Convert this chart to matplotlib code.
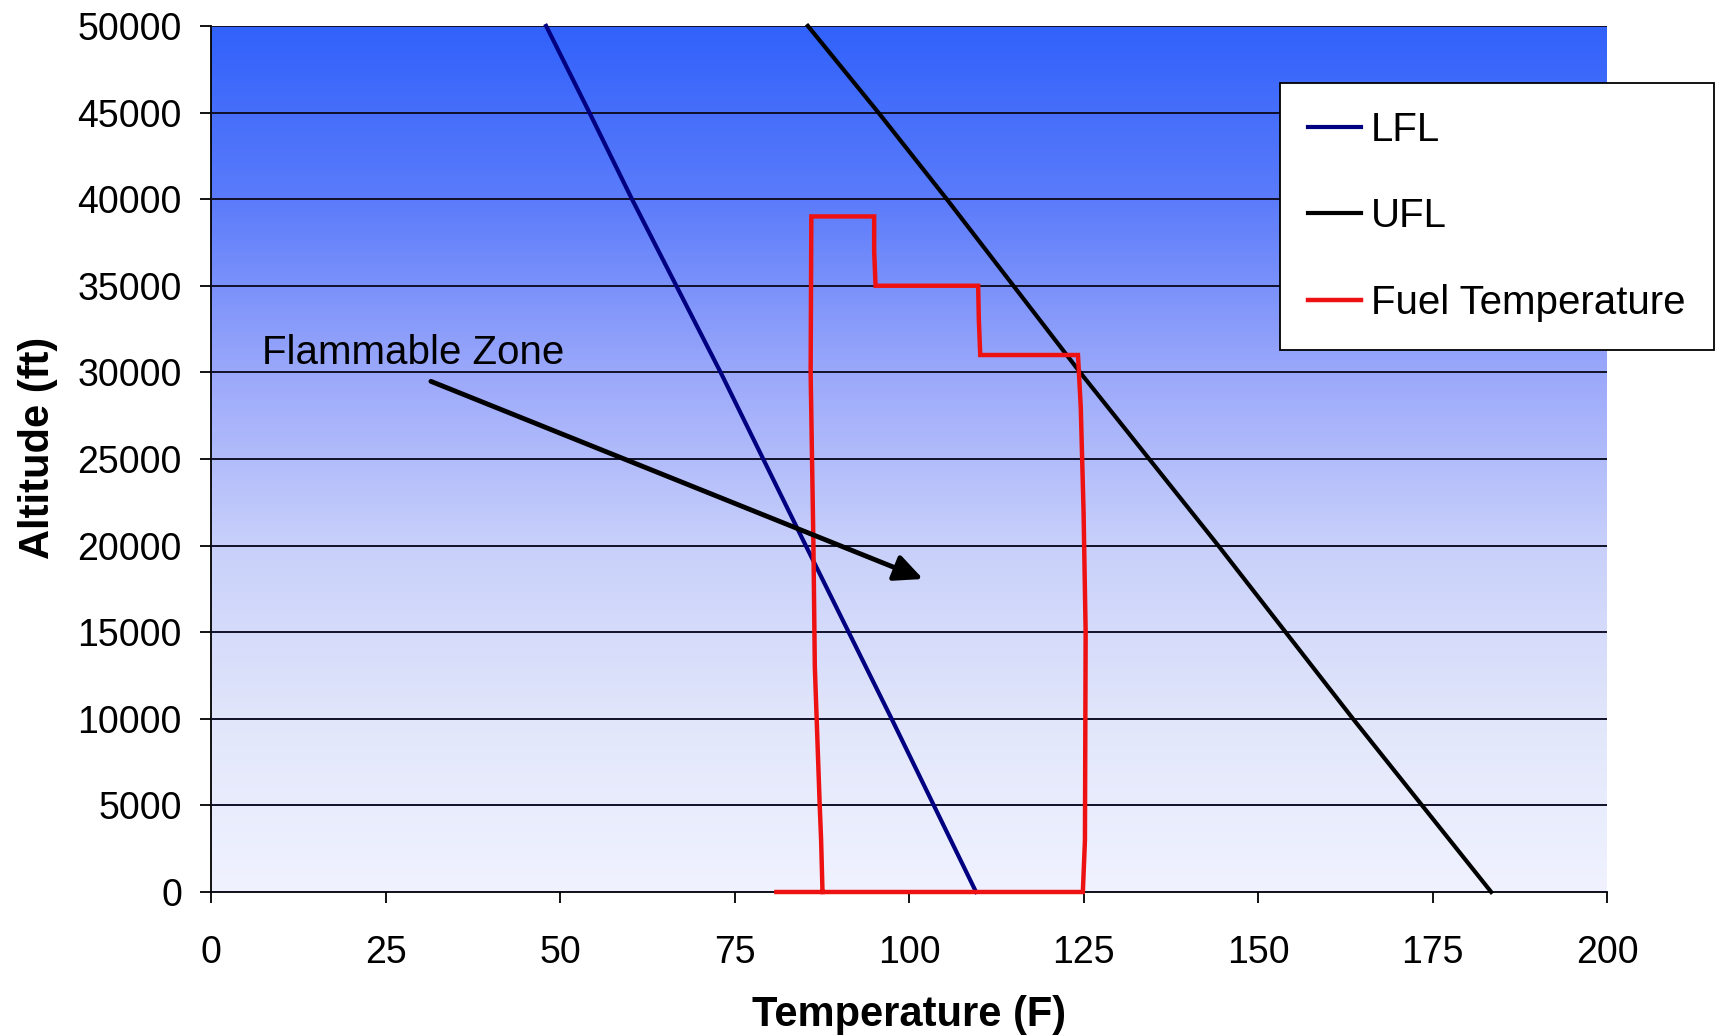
import matplotlib
matplotlib.use("Agg")
import matplotlib.pyplot as plt
import numpy as np
from matplotlib.colors import LinearSegmentedColormap

plt.rcParams["font.family"] = ["Liberation Sans", "DejaVu Sans"]

# lower / upper flammability limits (F) against altitude (ft)
lfl_alt = [0, 10000, 20000, 30000, 40000, 45000, 50000]
lfl_temp = [109.6, 97.5, 85.2, 73.0, 60.3, 54.2, 48.0]

ufl_alt = [0, 10000, 20000, 30000, 40000, 45000, 50000]
ufl_temp = [183.4, 163.6, 144.3, 124.5, 105.4, 95.6, 85.5]

# fuel temperature envelope over the flight
fuel_alt = [0, 0, 3000, 15000, 22000, 28000, 31000, 31000, 33000, 35000,
            35000, 37000, 39000, 39000, 30000, 20000, 13000, 5000, 3000, 0]
fuel_temp = [81.0, 124.9, 125.2, 125.3, 125.0, 124.6, 124.2, 110.2, 110.0, 109.9,
             95.2, 95.0, 95.0, 86.0, 85.9, 86.3, 86.5, 87.2, 87.4, 87.6]

x_ticks = [0, 25, 50, 75, 100, 125, 150, 175, 200]
y_ticks = [0, 5000, 10000, 15000, 20000, 25000, 30000, 35000, 40000, 45000, 50000]

fig = plt.figure(figsize=(17.23, 10.36), dpi=100)
ax = fig.add_axes([0.1225, 0.139, 0.8102, 0.836])

# blue-to-white background of the plot area
bg = LinearSegmentedColormap.from_list(
    "bg",
    [(0.0, (240/255, 242/255, 255/255)),
     (0.2, (225/255, 230/255, 250/255)),
     (0.4, (200/255, 208/255, 250/255)),
     (0.6, (155/255, 168/255, 250/255)),
     (0.8, (91/255, 123/255, 250/255)),
     (1.0, (49/255, 98/255, 250/255))])
grad = np.linspace(0, 1, 256).reshape(-1, 1)
ax.imshow(grad, cmap=bg, origin="lower", aspect="auto",
          extent=[0, 1, 0, 1], transform=ax.transAxes, zorder=0)

ax.set_xlim(0, 200)
ax.set_ylim(0, 50000)
ax.set_xticks(x_ticks)
ax.set_yticks(y_ticks)
ax.yaxis.grid(True, color="#101028", linewidth=1.4, zorder=1)
ax.set_axisbelow(False)

ax.plot(lfl_temp, lfl_alt, color="#000080", lw=3, label="LFL", zorder=3, clip_on=False)
ax.plot(ufl_temp, ufl_alt, color="black", lw=3, label="UFL", zorder=3, clip_on=False)
ax.plot(fuel_temp, fuel_alt, color="#ee1111", lw=3.2, label="Fuel Temperature",
        zorder=4, clip_on=False, solid_joinstyle="miter")

ax.annotate("", xy=(102.0, 18070), xytext=(31.5, 29480),
            arrowprops=dict(arrowstyle="-|>,head_length=0.85,head_width=0.4",
                            mutation_scale=20, color="black", lw=3.5,
                            shrinkA=0, shrinkB=0), zorder=5)
ax.text(7.3, 30500, "Flammable Zone", fontsize=29, va="baseline", ha="left", zorder=5)

for s in ["top", "right"]:
    ax.spines[s].set_visible(False)
for s in ["left", "bottom"]:
    ax.spines[s].set_color("black")
    ax.spines[s].set_linewidth(1.3)

ax.tick_params(axis="both", direction="out", length=8, width=1.3, labelsize=27)
ax.tick_params(axis="y", pad=13)
ax.tick_params(axis="x", pad=23)
ax.set_xlabel("Temperature (F)", fontsize=30, fontweight="bold", labelpad=17)
ax.set_ylabel("Altitude (ft)", fontsize=30, fontweight="bold")
ax.yaxis.set_label_coords(-0.11, 0.513)

leg = fig.legend(loc="upper left", bbox_to_anchor=(0.743, 0.920), fontsize=29,
                 frameon=True, fancybox=False, shadow=False, framealpha=1,
                 edgecolor="black", handlelength=1.3, handletextpad=0.25,
                 labelspacing=1.2, borderpad=0.7, borderaxespad=0)
leg.get_frame().set_linewidth(1.3)

fig.savefig("out.png", dpi=100)
